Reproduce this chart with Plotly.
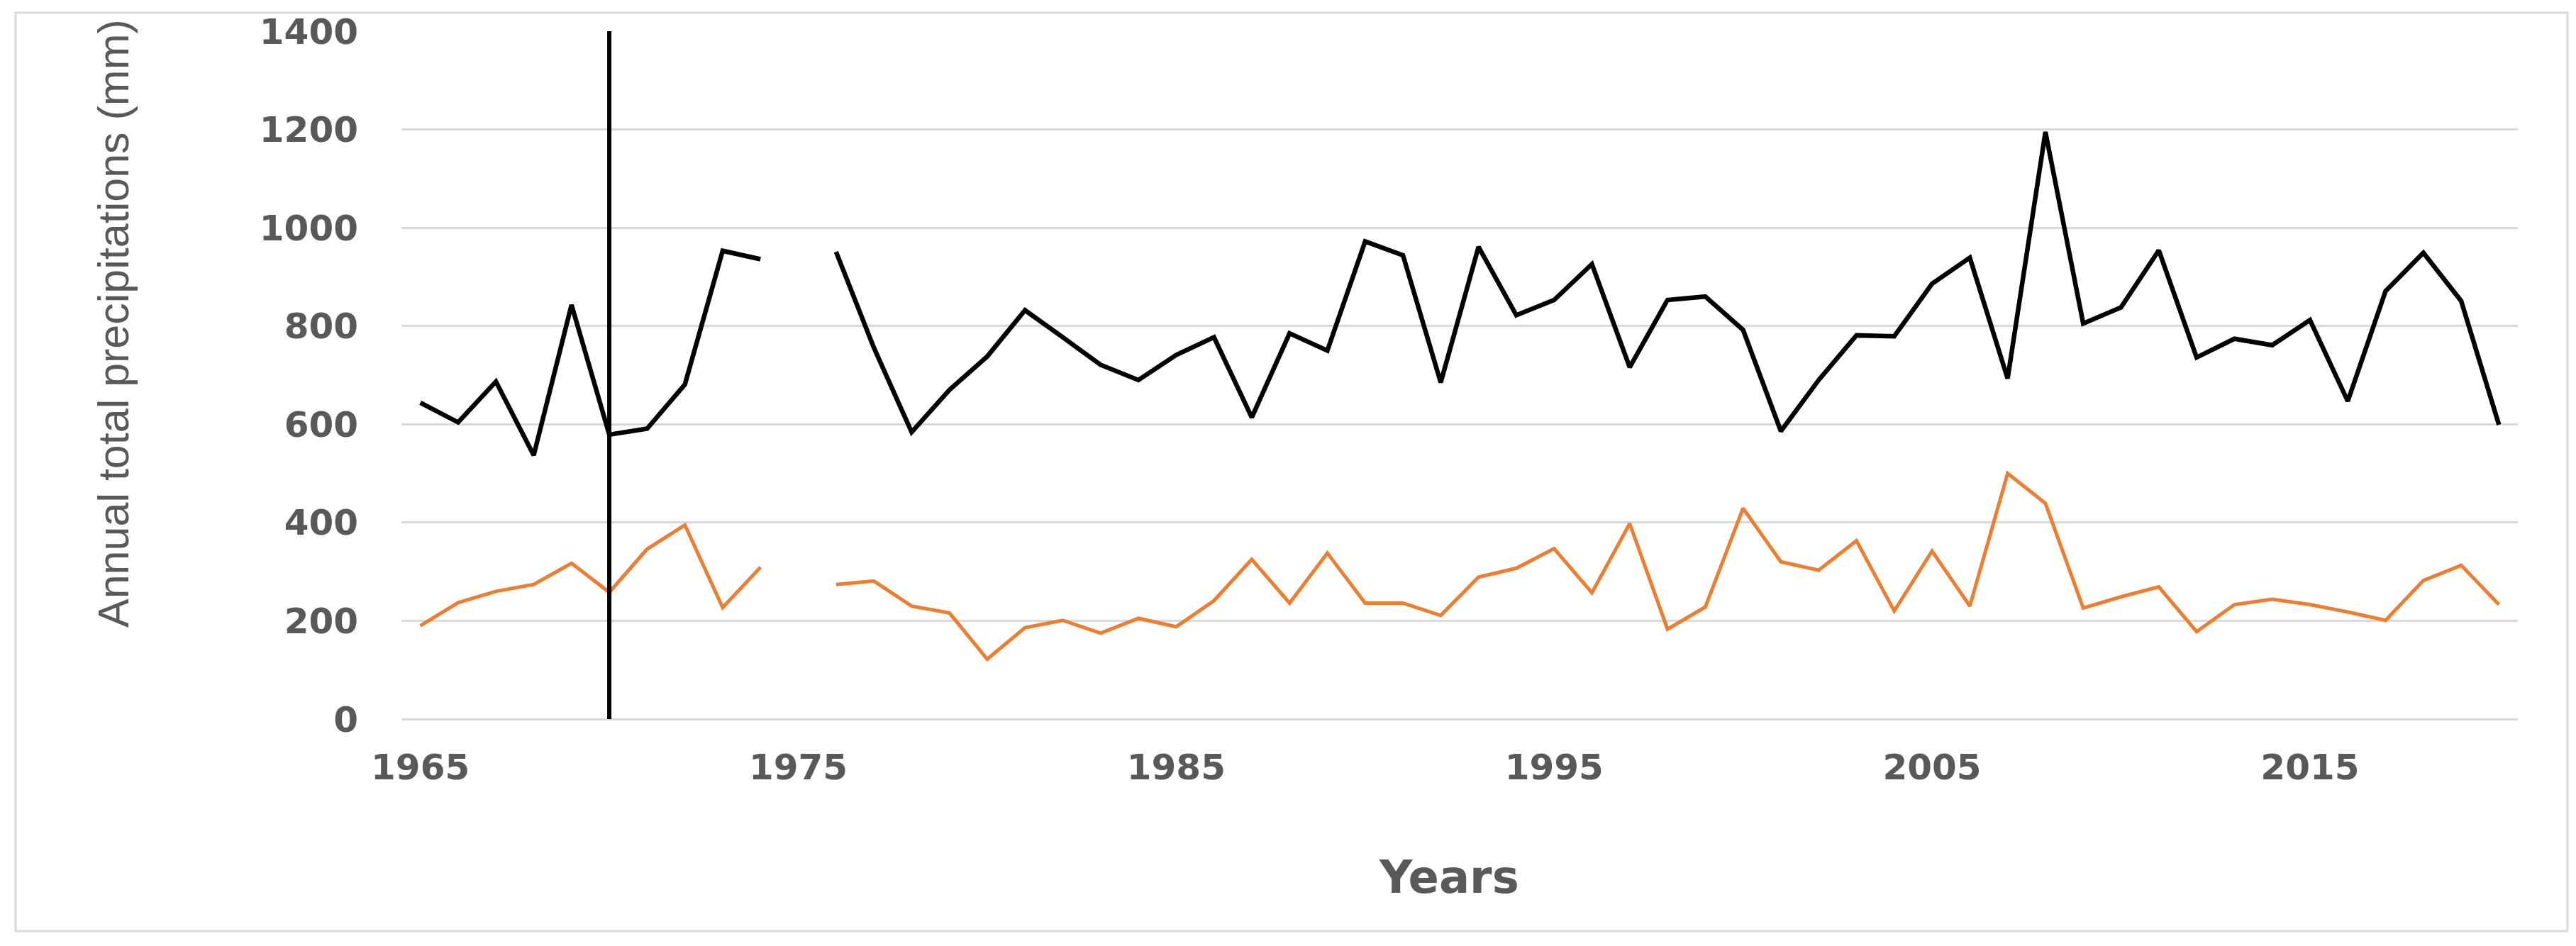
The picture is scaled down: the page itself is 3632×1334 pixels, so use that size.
import plotly.graph_objects as go

years = list(range(1965, 2021))
series_black = [644, 604, 687, 537, 843, 579, 591, 681, 953, 936, None,
                951, 756, 584, 670, 738, 832, 777, 721, 690, 741, 777, 614, 785, 750,
                972, 944, 685, 961, 822, 853, 926, 716, 853, 860, 792, 586, 690, 781,
                779, 886, 939, 693, 1195, 805, 838, 954, 736, 774, 761, 812, 647, 871,
                949, 851, 599]
series_orange = [190, 237, 260, 274, 317, 258, 346, 395, 227, 309, None,
                 274, 281, 230, 216, 122, 186, 201, 175, 205, 188, 241, 325, 236, 338,
                 236, 236, 211, 289, 307, 347, 257, 398, 183, 228, 429, 320, 303, 363,
                 220, 342, 230, 500, 439, 226, 249, 269, 178, 233, 244, 233, 218, 201,
                 282, 313, 233]
x_ticks = [1965, 1975, 1985, 1995, 2005, 2015]
y_ticks = [0, 200, 400, 600, 800, 1000, 1200, 1400]
break_year = 1970
y_title = "Annual total precipitations (mm)"
x_title = "Years"

W, H = 3632, 1334
L, R, T, B = 566, 82, 44, 320
pw, ph = W - L - R, H - T - B

def px2paper_x(p):
    return (p - L) / pw

def px2paper_y(p):
    return (H - B - p) / ph

fig = go.Figure()
fig.add_trace(go.Scatter(x=years, y=series_black, mode="lines",
                         line=dict(color="#000000", width=6.5),
                         connectgaps=False, showlegend=False, name="Series 1"))
fig.add_trace(go.Scatter(x=years, y=series_orange, mode="lines",
                         line=dict(color="#ED7D31", width=5),
                         connectgaps=False, showlegend=False, name="Series 2"))

# vertical break marker
fig.add_shape(type="line", xref="x", yref="y", x0=break_year, x1=break_year,
              y0=y_ticks[0], y1=y_ticks[-1], line=dict(color="#000000", width=6))

# outer border
fig.add_shape(type="rect", xref="paper", yref="paper",
              x0=px2paper_x(22), x1=px2paper_x(3620),
              y0=px2paper_y(1313), y1=px2paper_y(18),
              line=dict(color="#D9D9D9", width=3), layer="below")

fig.add_annotation(text=y_title, xref="paper", yref="paper",
                   x=px2paper_x(160), y=px2paper_y(456), textangle=-90,
                   showarrow=False, xanchor="center", yanchor="middle",
                   font=dict(family="Liberation Sans, Arial", size=61, color="#595959"))
fig.add_annotation(text="<b>" + x_title + "</b>", xref="paper", yref="paper",
                   x=px2paper_x(2043), y=px2paper_y(1237),
                   showarrow=False, xanchor="center", yanchor="middle",
                   font=dict(family="DejaVu Sans", size=64, color="#595959"))

fig.update_layout(
    width=W, height=H,
    margin=dict(l=L, r=R, t=T, b=B, pad=0),
    paper_bgcolor="white", plot_bgcolor="white",
    xaxis=dict(range=[1964.5, 2020.5], tickvals=x_ticks,
               ticktext=[str(v) for v in x_ticks],
               showgrid=False, zeroline=False, showline=False,
               ticks="", ticklabelstandoff=34,
               tickfont=dict(family="DejaVu Sans", size=50, color="#595959", weight="bold")),
    yaxis=dict(range=[0, 1400], tickvals=y_ticks,
               showgrid=True, gridcolor="#D9D9D9", gridwidth=2.5,
               zeroline=True, zerolinecolor="#D9D9D9", zerolinewidth=2.5,
               showline=False, ticks="", ticklabelstandoff=60,
               tickfont=dict(family="DejaVu Sans", size=50, color="#595959", weight="bold")),
)

fig.write_html("out.html", config={"displayModeBar": False},
               post_script="document.body.style.margin='0';document.body.style.overflow='hidden';")
